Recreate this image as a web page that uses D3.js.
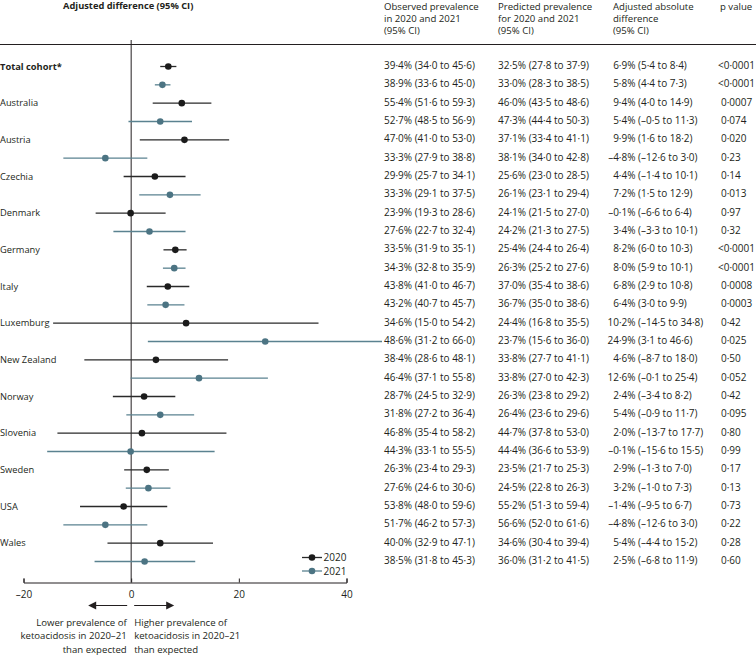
<!DOCTYPE html>
<html>
<head>
<meta charset="utf-8">
<script src="https://cdn.jsdelivr.net/npm/d3@7"></script>
<style>
  html, body { margin: 0; padding: 0; background: #fff; }
  svg { display: block; font-family: "Open Sans", "Noto Sans", sans-serif; }
</style>
</head>
<body>
<div id="chart"></div>
<script>
// ---------------- data ----------------
const countries = ["Total cohort*", "Australia", "Austria", "Czechia", "Denmark", "Germany", "Italy",
  "Luxemburg", "New Zealand", "Norway", "Slovenia", "Sweden", "USA", "Wales"];
const years = ["2020", "2021"];

// observed prevalence [estimate, lower, upper]
const obs2020 = [[39.4,34.0,45.6],[55.4,51.6,59.3],[47.0,41.0,53.0],[29.9,25.7,34.1],[23.9,19.3,28.6],
  [33.5,31.9,35.1],[43.8,41.0,46.7],[34.6,15.0,54.2],[38.4,28.6,48.1],[28.7,24.5,32.9],
  [46.8,35.4,58.2],[26.3,23.4,29.3],[53.8,48.0,59.6],[40.0,32.9,47.1]];
const obs2021 = [[38.9,33.6,45.0],[52.7,48.5,56.9],[33.3,27.9,38.8],[33.3,29.1,37.5],[27.6,22.7,32.4],
  [34.3,32.8,35.9],[43.2,40.7,45.7],[48.6,31.2,66.0],[46.4,37.1,55.8],[31.8,27.2,36.4],
  [44.3,33.1,55.5],[27.6,24.6,30.6],[51.7,46.2,57.3],[38.5,31.8,45.3]];
// predicted prevalence
const pred2020 = [[32.5,27.8,37.9],[46.0,43.5,48.6],[37.1,33.4,41.1],[25.6,23.0,28.5],[24.1,21.5,27.0],
  [25.4,24.4,26.4],[37.0,35.4,38.6],[24.4,16.8,35.5],[33.8,27.7,41.1],[26.3,23.8,29.2],
  [44.7,37.8,53.0],[23.5,21.7,25.3],[55.2,51.3,59.4],[34.6,30.4,39.4]];
const pred2021 = [[33.0,28.3,38.5],[47.3,44.4,50.3],[38.1,34.0,42.8],[26.1,23.1,29.4],[24.2,21.3,27.5],
  [26.3,25.2,27.6],[36.7,35.0,38.6],[23.7,15.6,36.0],[33.8,27.0,42.3],[26.4,23.6,29.6],
  [44.4,36.6,53.9],[24.5,22.8,26.3],[56.6,52.0,61.6],[36.0,31.2,41.5]];
// adjusted absolute difference
const diff2020 = [[6.9,5.4,8.4],[9.4,4.0,14.9],[9.9,1.6,18.2],[4.4,-1.4,10.1],[-0.1,-6.6,6.4],
  [8.2,6.0,10.3],[6.8,2.9,10.8],[10.2,-14.5,34.8],[4.6,-8.7,18.0],[2.4,-3.4,8.2],
  [2.0,-13.7,17.7],[2.9,-1.3,7.0],[-1.4,-9.5,6.7],[5.4,-4.4,15.2]];
const diff2021 = [[5.8,4.4,7.3],[5.4,-0.5,11.3],[-4.8,-12.6,3.0],[7.2,1.5,12.9],[3.4,-3.3,10.1],
  [8.0,5.9,10.1],[6.4,3.0,9.9],[24.9,3.1,46.6],[12.6,-0.1,25.4],[5.4,-0.9,11.7],
  [-0.1,-15.6,15.5],[3.2,-1.0,7.3],[-4.8,-12.6,3.0],[2.5,-6.8,11.9]];
// p values
const p2020 = ["<0·0001","0·0007","0·020","0·14","0·97","<0·0001","0·0008","0·42","0·50","0·42","0·80","0·17","0·73","0·28"];
const p2021 = ["<0·0001","0·074","0·23","0·013","0·32","<0·0001","0·0003","0·025","0·052","0·095","0·99","0·13","0·22","0·60"];

const xTicks = [-20, 0, 20, 40];
const colHeaders = [
  ["Observed prevalence", "in 2020 and 2021", "(95% CI)"],
  ["Predicted prevalence", "for 2020 and 2021", "(95% CI)"],
  ["Adjusted absolute", "difference", "(95% CI)"],
  ["p value"]
];
const plotTitle = "Adjusted difference (95% CI)";
const noteLeft = ["Lower prevalence of", "ketoacidosis in 2020–21", "than expected"];
const noteRight = ["Higher prevalence of", "ketoacidosis in 2020–21", "than expected"];

// ---------------- build rows ----------------
const rows = [];
countries.forEach((c, i) => {
  rows.push({ country: c, year: "2020", idx: 2*i, obs: obs2020[i], pred: pred2020[i], diff: diff2020[i], p: p2020[i] });
  rows.push({ country: c, year: "2021", idx: 2*i+1, obs: obs2021[i], pred: pred2021[i], diff: diff2021[i], p: p2021[i] });
});

const fmt = v => (v < 0 ? "–" : "") + Math.abs(v).toFixed(1).replace(".", "·");
const ciText = a => `(${fmt(a[1])} to ${fmt(a[2])})`;

// ---------------- layout ----------------
const W = 756, H = 655;
const textCol = "#231f20";
const lineCol = { "2020": "#2a2a2a", "2021": "#5a8290" };
const dotCol = { "2020": "#1b1b1b", "2021": "#4c7483" };

const svg = d3.select("#chart").append("svg").attr("width", W).attr("height", H);
svg.append("rect").attr("width", W).attr("height", H).attr("fill", "#fff");

const x = d3.scaleLinear().domain([-20, 40]).range([23.5, 346.5]);
const y = d3.scalePoint().domain(d3.range(rows.length)).range([66.5, 561.5]);
const axisY = 582.5;

// header
svg.append("text").attr("x", 63).attr("y", 9).attr("font-size", 9.3).attr("font-weight", "bold")
  .attr("fill", textCol).text(plotTitle);

const colX = [384, 498, 613, 720];
colHeaders.forEach((lines, k) => {
  lines.forEach((t, j) => {
    svg.append("text").attr("x", colX[k]).attr("y", 9.5 + j * 12.3)
      .attr("font-size", 9.6).attr("fill", textCol).text(t);
  });
});
svg.append("line").attr("x1", 0).attr("x2", W).attr("y1", 44.5).attr("y2", 44.5)
  .attr("stroke", "#231f20").attr("stroke-width", 1);

// zero line
svg.append("line").attr("x1", x(0)).attr("x2", x(0)).attr("y1", 40).attr("y2", axisY)
  .attr("stroke", "#231f20").attr("stroke-width", 1);

// country labels
svg.selectAll("text.country").data(rows.filter(r => r.year === "2020")).join("text")
  .attr("class", "country")
  .attr("x", 0).attr("y", d => y(d.idx)).attr("dy", "0.35em")
  .attr("font-size", 9.3)
  .attr("font-weight", d => d.idx === 0 ? "bold" : "normal")
  .attr("fill", textCol).text(d => d.country);

// CI lines + points
const g = svg.append("g");
g.selectAll("line.ci").data(rows).join("line").attr("class", "ci")
  .attr("x1", d => x(d.diff[1])).attr("x2", d => x(d.diff[2]))
  .attr("y1", d => y(d.idx)).attr("y2", d => y(d.idx))
  .attr("stroke", d => lineCol[d.year]).attr("stroke-width", 1.3);
g.selectAll("circle.pt").data(rows).join("circle").attr("class", "pt")
  .attr("cx", d => x(d.diff[0])).attr("cy", d => y(d.idx)).attr("r", 3.3)
  .attr("fill", d => dotCol[d.year]);

// table values
const tbl = svg.append("g").attr("font-size", 10).attr("fill", textCol);
tbl.selectAll("text.obs").data(rows).join("text").attr("class", "obs")
  .attr("x", colX[0]).attr("y", d => y(d.idx) - 1).attr("dy", "0.35em")
  .text(d => `${fmt(d.obs[0])}% ${ciText(d.obs)}`);
tbl.selectAll("text.pred").data(rows).join("text").attr("class", "pred")
  .attr("x", colX[1]).attr("y", d => y(d.idx) - 1).attr("dy", "0.35em")
  .text(d => `${fmt(d.pred[0])}% ${ciText(d.pred)}`);
tbl.selectAll("text.dest").data(rows).join("text").attr("class", "dest")
  .attr("x", colX[2] + 22.5).attr("y", d => y(d.idx) - 1).attr("dy", "0.35em").attr("text-anchor", "end")
  .text(d => `${fmt(d.diff[0])}%`);
tbl.selectAll("text.dci").data(rows).join("text").attr("class", "dci")
  .attr("x", colX[2] + 25).attr("y", d => y(d.idx) - 1).attr("dy", "0.35em")
  .text(d => ciText(d.diff));
tbl.selectAll("text.p").data(rows).join("text").attr("class", "p")
  .attr("x", d => d.p.startsWith("<") ? colX[3] - 2 : colX[3] + 1).attr("y", d => y(d.idx) - 1).attr("dy", "0.35em")
  .text(d => d.p);

// axis
const axis = d3.axisBottom(x).tickValues(xTicks).tickSizeInner(-4).tickSizeOuter(-4).tickPadding(8)
  .tickFormat(d => d < 0 ? "–" + Math.abs(d) : String(d));
const ag = svg.append("g").attr("transform", `translate(0,${axisY})`).call(axis);
ag.select(".domain").attr("stroke", "#231f20").attr("stroke-width", 1);
ag.selectAll(".tick line").attr("stroke", "#231f20");
ag.selectAll(".tick text").attr("font-size", 10).attr("fill", textCol)
  .attr("font-family", "'Open Sans', 'Noto Sans', sans-serif");

// legend
const leg = svg.append("g");
years.forEach((yr, i) => {
  const ly = 557.5 + i * 13.5;
  leg.append("line").attr("x1", 302).attr("x2", 322).attr("y1", ly).attr("y2", ly)
    .attr("stroke", lineCol[yr]).attr("stroke-width", 1.3);
  leg.append("circle").attr("cx", 312).attr("cy", ly).attr("r", 3.3).attr("fill", dotCol[yr]);
  leg.append("text").attr("x", 323.5).attr("y", ly).attr("dy", "0.35em").attr("font-size", 10)
    .attr("fill", textCol).text(yr);
});

// arrows
const ay = 605.5, x0 = x(0);
svg.append("line").attr("x1", x0 - 4).attr("x2", x0 - 36).attr("y1", ay).attr("y2", ay)
  .attr("stroke", "#231f20").attr("stroke-width", 1.2);
svg.append("path").attr("d", `M${x0-43},${ay} L${x0-35},${ay-4} L${x0-35},${ay+4} Z`).attr("fill", "#231f20");
svg.append("line").attr("x1", x0 + 3).attr("x2", x0 + 36).attr("y1", ay).attr("y2", ay)
  .attr("stroke", "#231f20").attr("stroke-width", 1.2);
svg.append("path").attr("d", `M${x0+43},${ay} L${x0+35},${ay-4} L${x0+35},${ay+4} Z`).attr("fill", "#231f20");

noteLeft.forEach((t, j) => {
  svg.append("text").attr("x", x0 - 4.5).attr("y", 622.3 + j * 13.5).attr("dy", "0.35em")
    .attr("text-anchor", "end").attr("font-size", 9.6).attr("fill", textCol).text(t);
});
noteRight.forEach((t, j) => {
  svg.append("text").attr("x", x0 + 3).attr("y", 622.3 + j * 13.5).attr("dy", "0.35em")
    .attr("font-size", 9.6).attr("fill", textCol).text(t);
});
</script>
</body>
</html>
